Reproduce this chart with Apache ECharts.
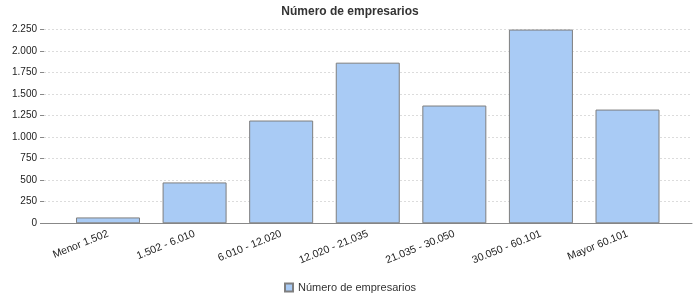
<!DOCTYPE html>
<html>
<head>
<meta charset="utf-8">
<script src="https://cdn.jsdelivr.net/npm/echarts@6/dist/echarts.min.js"></script>
<style>
  html, body { margin: 0; padding: 0; background: #fff; }
  #chart { width: 700px; height: 300px; }
</style>
</head>
<body>
<div id="chart"></div>
<script>
// datos del gráfico
var categories = ['Menor 1.502', '1.502 - 6.010', '6.010 - 12.020', '12.020 - 21.035',
  '21.035 - 30.050', '30.050 - 60.101', 'Mayor 60.101'];
var empresarios = [68, 474, 1192, 1863, 1366, 2247, 1319];
var seriesName = 'Número de empresarios';
var yMax = 2250;
var yStep = 250;

function miles(v) {
  return String(v).replace(/\B(?=(\d{3})+(?!\d))/g, '.');
}

var font = 'Liberation Sans, Arial, sans-serif';
var myChart = echarts.init(document.getElementById('chart'));

myChart.setOption({
  animation: false,
  textStyle: { fontFamily: font },
  title: {
    text: seriesName,
    left: 'center',
    top: 1,
    textStyle: { fontSize: 12, fontWeight: 'bold', color: '#333', fontFamily: font }
  },
  legend: {
    data: [seriesName],
    left: 'center',
    top: 277,
    itemWidth: 8,
    itemHeight: 8,
    icon: 'rect',
    textStyle: { fontSize: 11, color: '#333', fontFamily: font }
  },
  grid: [
    { left: 44, right: 8, top: 29.3, bottom: 76.7 },  // líneas de fondo
    { left: 64.7, right: 29.2, top: 29.3, bottom: 76.7 } // barras
  ],
  xAxis: [
    {
      gridIndex: 0, type: 'category', data: categories,
      axisLine: { lineStyle: { color: '#888', width: 1 } },
      axisTick: { show: false },
      axisLabel: { show: false }
    },
    {
      gridIndex: 1, type: 'category', data: categories,
      axisLine: { show: false },
      axisTick: { show: false },
      axisLabel: {
        rotate: 22, fontSize: 10.5, color: '#222', margin: 10, interval: 0, fontFamily: font
      }
    }
  ],
  yAxis: [
    {
      gridIndex: 0, type: 'value', min: 0, max: yMax, interval: yStep,
      axisLine: { show: false },
      axisTick: { show: true, length: 4, lineStyle: { color: '#888' } },
      axisLabel: { fontSize: 10, color: '#222', margin: 7, formatter: miles, fontFamily: font },
      splitLine: { lineStyle: { color: '#dcdcdc', type: [2, 2], width: 1 } }
    },
    {
      gridIndex: 1, type: 'value', min: 0, max: yMax, interval: yStep, show: false
    }
  ],
  series: [
    {
      name: seriesName,
      type: 'bar',
      xAxisIndex: 1,
      yAxisIndex: 1,
      barWidth: 64,
      data: empresarios,
      itemStyle: { color: '#a9cbf5', borderColor: '#7f7f7f', borderWidth: 1 }
    }
  ]
});
</script>
</body>
</html>
